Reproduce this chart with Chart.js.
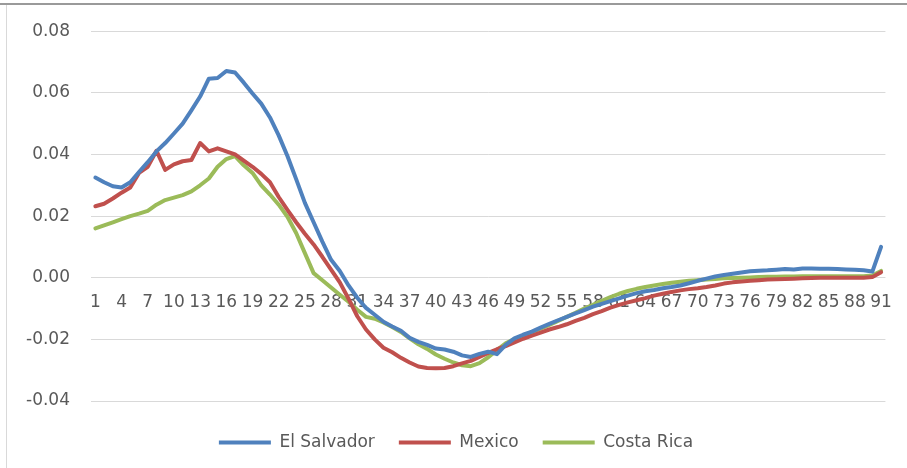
<!DOCTYPE html>
<html>
<head>
<meta charset="utf-8">
<script src="https://cdn.jsdelivr.net/npm/chart.js@4/dist/chart.umd.min.js"></script>
<style>
html,body{margin:0;padding:0;background:#fff;}
#wrap{position:relative;width:907px;height:468px;}
</style>
</head>
<body>
<div id="wrap"><canvas id="c" width="907" height="468"></canvas></div>
<script>
const categories = [1,2,3,4,5,6,7,8,9,10,11,12,13,14,15,16,17,18,19,20,21,22,23,24,25,26,27,28,29,30,31,32,33,34,35,36,37,38,39,40,41,42,43,44,45,46,47,48,49,50,51,52,53,54,55,56,57,58,59,60,61,62,63,64,65,66,67,68,69,70,71,72,73,74,75,76,77,78,79,80,81,82,83,84,85,86,87,88,89,90,91];
const tickLabels = [1,4,7,10,13,16,19,22,25,28,31,34,37,40,43,46,49,52,55,58,61,64,67,70,73,76,79,82,85,88,91];
const yTicks = [-0.04,-0.02,0.00,0.02,0.04,0.06,0.08];

const elSalvador = [0.0325,0.0310,0.0297,0.0293,0.0310,0.0343,0.0375,0.0410,0.0437,0.0468,
0.0500,0.0543,0.0588,0.0646,0.0648,0.0671,0.0666,0.0633,0.0598,0.0565,
0.0520,0.0462,0.0395,0.0320,0.0243,0.0180,0.0117,0.0058,0.0022,-0.0025,
-0.0065,-0.0098,-0.0120,-0.0143,-0.0158,-0.0172,-0.0195,-0.0208,-0.0218,-0.0230,
-0.0233,-0.0240,-0.0252,-0.0257,-0.0247,-0.0240,-0.0248,-0.0218,-0.0197,-0.0185,
-0.0175,-0.0162,-0.0150,-0.0138,-0.0127,-0.0116,-0.0105,-0.0094,-0.0085,-0.0076,
-0.0067,-0.0058,-0.0050,-0.0044,-0.0040,-0.0034,-0.0030,-0.0025,-0.0018,-0.0010,
-0.0003,0.0004,0.0009,0.0013,0.0017,0.0021,0.0023,0.0024,0.0026,0.0028,
0.0027,0.0030,0.0030,0.0029,0.0029,0.0028,0.0027,0.0026,0.0024,0.0020,
0.0100];

const mexico = [0.0232,0.0240,0.0257,0.0276,0.0293,0.0340,0.0360,0.0412,0.0350,0.0368,
0.0378,0.0382,0.0437,0.0410,0.0420,0.0410,0.0400,0.0380,0.0360,0.0337,
0.0310,0.0262,0.0220,0.0180,0.0143,0.0108,0.0068,0.0026,-0.0015,-0.0068,
-0.0125,-0.0168,-0.0200,-0.0227,-0.0242,-0.0260,-0.0275,-0.0288,-0.0293,-0.0294,
-0.0293,-0.0287,-0.0278,-0.0270,-0.0257,-0.0244,-0.0232,-0.0222,-0.0210,-0.0198,
-0.0188,-0.0178,-0.0168,-0.0160,-0.0151,-0.0140,-0.0130,-0.0118,-0.0108,-0.0097,
-0.0088,-0.0080,-0.0073,-0.0066,-0.0058,-0.0052,-0.0046,-0.0041,-0.0037,-0.0034,
-0.0030,-0.0025,-0.0019,-0.0015,-0.0012,-0.0010,-0.0008,-0.0006,-0.0005,-0.0004,
-0.0003,-0.0002,-0.0001,0.0000,0.0000,0.0000,0.0000,0.0000,0.0000,0.0002,
0.0018];

const costaRica = [0.0160,0.0170,0.0180,0.0190,0.0200,0.0208,0.0217,0.0237,0.0252,0.0260,
0.0268,0.0280,0.0300,0.0322,0.0360,0.0385,0.0395,0.0365,0.0340,0.0300,
0.0270,0.0237,0.0198,0.0145,0.0080,0.0015,-0.0008,-0.0032,-0.0055,-0.0078,
-0.0104,-0.0127,-0.0133,-0.0145,-0.0160,-0.0176,-0.0197,-0.0216,-0.0231,-0.0249,
-0.0263,-0.0275,-0.0284,-0.0287,-0.0277,-0.0258,-0.0235,-0.0213,-0.0199,-0.0188,
-0.0177,-0.0165,-0.0153,-0.0140,-0.0127,-0.0114,-0.0100,-0.0088,-0.0075,-0.0063,
-0.0052,-0.0043,-0.0036,-0.0030,-0.0025,-0.0020,-0.0016,-0.0013,-0.0010,-0.0008,
-0.0006,-0.0004,-0.0002,-0.0001,0.0000,0.0001,0.0002,0.0003,0.0003,0.0004,
0.0004,0.0005,0.0005,0.0005,0.0005,0.0005,0.0005,0.0005,0.0005,0.0007,
0.0022];

const seriesNames = ['El Salvador','Mexico','Costa Rica'];
const seriesColors = ['#4F81BD','#C0504D','#9BBB59'];
const seriesData = [elSalvador, mexico, costaRica];

const FONT = "'DejaVu Sans', sans-serif";
const TEXT = '#595959';

const framePlugin = {
  id: 'frame',
  afterLayout(chart) {
    const lg = chart.legend;
    if (lg) {
      lg.top += 9; lg.bottom += 9;
      lg.left += 13; lg.right += 13;
    }
  },
  beforeDraw(chart) {
    const ctx = chart.ctx;
    ctx.save();
    ctx.fillStyle = '#ffffff';
    ctx.fillRect(0, 0, chart.width, chart.height);
    ctx.strokeStyle = '#9a9a9a';
    ctx.lineWidth = 2;
    ctx.beginPath(); ctx.moveTo(0, 4); ctx.lineTo(chart.width, 4); ctx.stroke();
    ctx.strokeStyle = '#d9d9d9';
    ctx.lineWidth = 1;
    ctx.beginPath(); ctx.moveTo(6.5, 5); ctx.lineTo(6.5, chart.height); ctx.stroke();
    ctx.restore();
  }
};

new Chart(document.getElementById('c'), {
  type: 'line',
  data: {
    labels: categories,
    datasets: seriesData.map((d, i) => ({
      label: seriesNames[i],
      data: d,
      borderColor: seriesColors[i],
      backgroundColor: seriesColors[i],
      borderWidth: 4,
      pointRadius: 0,
      pointHoverRadius: 0,
      tension: 0,
      borderCapStyle: 'round',
      borderJoinStyle: 'round',
      fill: false
    }))
  },
  options: {
    responsive: false,
    animation: false,
    devicePixelRatio: 1,
    layout: { padding: { left: 0, right: 21, top: 18, bottom: 16 } },
    plugins: {
      legend: {
        position: 'bottom',
        labels: {
          usePointStyle: true,
          pointStyle: 'line',
          pointStyleWidth: 52,
          boxHeight: 4,
          padding: 24,
          color: TEXT,
          font: { family: FONT, size: 17 }
        }
      },
      tooltip: { enabled: false }
    },
    scales: {
      x: {
        type: 'category',
        offset: true,
        position: { y: 0 },
        grid: { display: false, drawTicks: false },
        border: { display: false },
        ticks: {
          autoSkip: false,
          maxRotation: 0,
          minRotation: 0,
          padding: 15,
          color: TEXT,
          font: { family: FONT, size: 17 },
          callback: function(value, index) {
            const lab = categories[index];
            return tickLabels.includes(lab) ? String(lab) : '';
          }
        }
      },
      y: {
        min: -0.04,
        max: 0.08,
        afterFit(scale) { scale.width = 91; },
        afterBuildTicks(scale) { scale.ticks = yTicks.map(v => ({ value: v })); },
        grid: { color: '#d9d9d9', lineWidth: 1, drawTicks: false },
        border: { display: false },
        ticks: {
          padding: 21,
          color: TEXT,
          font: { family: FONT, size: 17 },
          callback: v => Number(v).toFixed(2)
        }
      }
    }
  },
  plugins: [framePlugin]
});
</script>
</body>
</html>
